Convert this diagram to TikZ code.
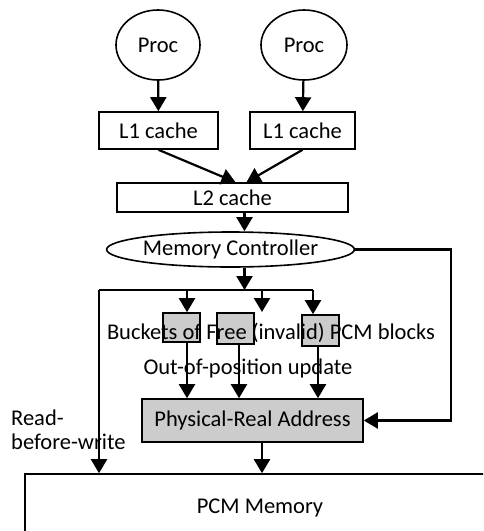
\documentclass[tikz,border=0pt]{standalone}
\usepackage{fontspec}
\setmainfont{Carlito}
\usetikzlibrary{arrows.meta,shapes.geometric}

\tikzset{
  blk/.style={draw,line width=1.6pt,inner sep=0pt},
  gblk/.style={blk,fill=black!20},
  oval/.style={draw,ellipse,line width=1.6pt,inner sep=0pt},
  arr/.style={line width=2.2pt,-{Triangle[width=16pt,length=14pt]}},
  wire/.style={line width=2.2pt}
}

\begin{document}
\begin{tikzpicture}[x=1pt,y=-1pt,font=\fontsize{22.5}{24}\selectfont]
  \useasboundingbox (0,0) rectangle (483,531);
  \clip (0,0) rectangle (483,531);
  % processors and caches
  \node[oval,minimum width=84,minimum height=70] (procA) at (158,45) {Proc};
  \node[oval,minimum width=86,minimum height=70] (procB) at (304,45) {Proc};
  \node[blk,minimum width=119,minimum height=37] (lA) at (158.5,130.5) {L1 cache};
  \node[blk,minimum width=105,minimum height=37] (lB) at (302.5,130.5) {L1 cache};
  \node[blk,minimum width=231,minimum height=29] (ltwo) at (232.5,197.5) {L2 cache};
  \node[oval,minimum width=245,minimum height=35] (mc) at (230.5,249.5) {Memory Controller};
  \draw[arr] (procA) -- (lA);
  \draw[arr] (procB) -- (lB);
  \draw[arr] (lA.south) -- ([xshift=3]ltwo.north);
  \draw[arr] (lB.south) -- ([xshift=14]ltwo.north);
  \draw[arr] ([xshift=12]ltwo.south) -- ([xshift=12]ltwo.south |- mc.north);
  % bus below the controller
  \coordinate (busL) at (99,290);
  \coordinate (dA) at (187,290);
  \coordinate (dB) at (262,290);
  \coordinate (dBe) at (262,312);
  \coordinate (dC) at (313,290);
  \draw[arr] ([xshift=14]mc.south) -- ([xshift=14]mc.south |- dA);
  \draw[wire] (busL) -- (dC);
  % buckets
  \node[gblk,minimum width=37,minimum height=29] (bkA) at (181.5,327.5) {};
  \node[gblk,minimum width=37,minimum height=31] (bkB) at (235.5,328.5) {};
  \node[gblk,minimum width=37,minimum height=31] (bkC) at (320.5,330.5) {};
  \draw[arr] (dA) -- (dA |- bkA.north);
  \draw[arr] (dB) -- (dBe);
  \draw[arr] (dC) -- (dC |- bkC.north);
  \node (bktxt) at (271,333) {Buckets of Free (invalid) PCM blocks};
  \node (oop) at (248,368.5) {Out-of-position update};
  % address translation and memory
  \node[gblk,minimum width=221,minimum height=43] (pra) at (252.5,420.5) {Physical-Real Address};
  \node[blk,minimum width=470,minimum height=68] (pcm) at (260,508) {PCM Memory};
  \coordinate (rt) at (451,420.5);
  \draw[arr] (dA |- bkA.south) -- (dA |- pra.north);
  \draw[arr] ([xshift=3.5]bkB.south) -- ([xshift=3.5]bkB.south |- pra.north);
  \draw[arr] ([xshift=-2.5]bkC.south) -- ([xshift=-2.5]bkC.south |- pra.north);
  \draw[arr] (mc.east) -| (rt) -- (pra.east);
  \draw[arr] ([xshift=9.5]pra.south) -- ([xshift=9.5]pra.south |- pcm.north);
  \node[align=left,anchor=west,inner sep=0pt] (rbw) at (11,430) {Read-\\before-write};
  \draw[arr] (busL) -- (busL |- pcm.north);
\end{tikzpicture}
\end{document}
